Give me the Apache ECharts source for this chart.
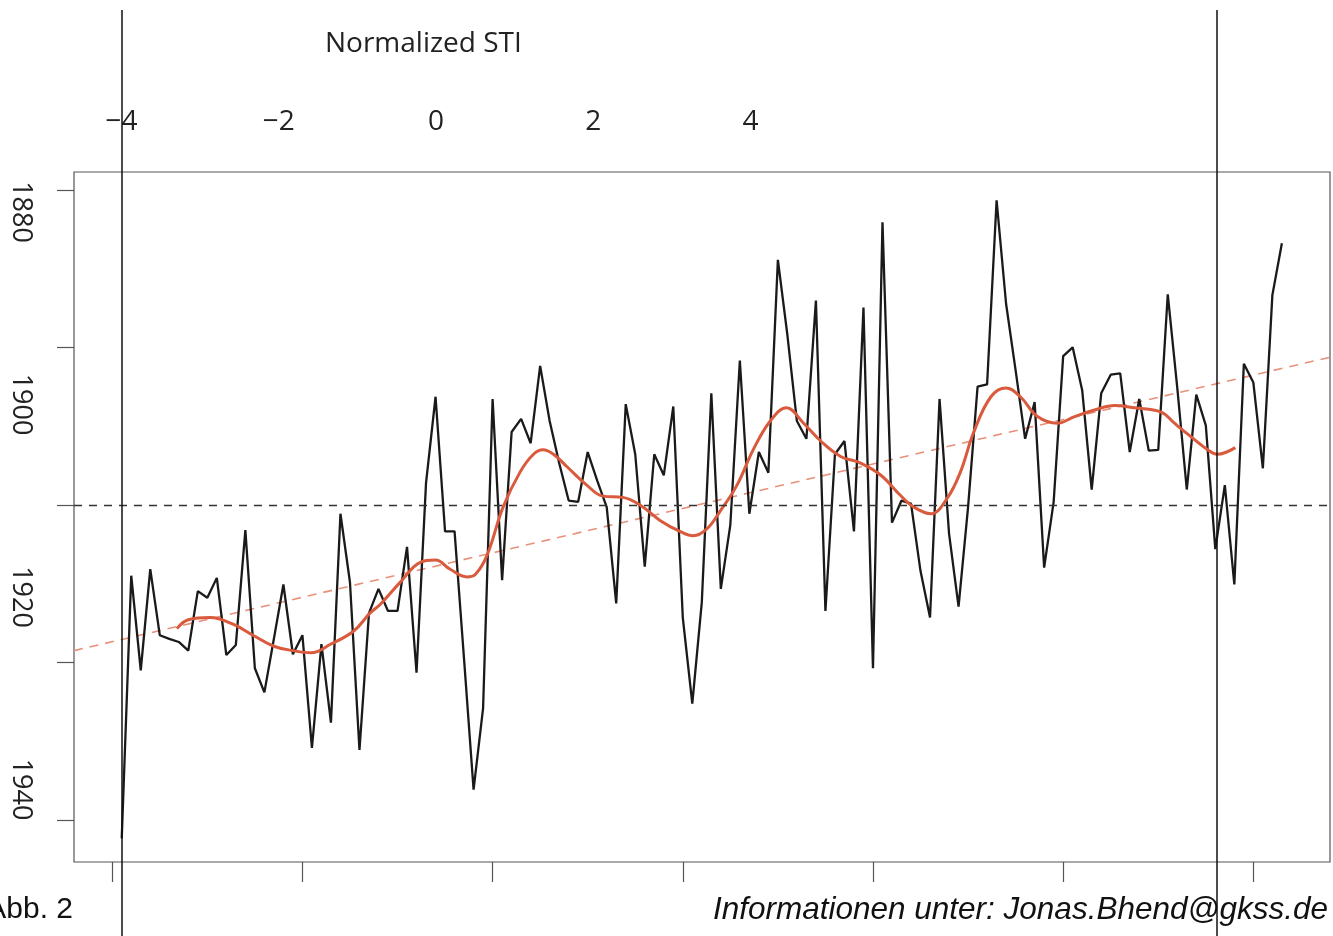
<!DOCTYPE html>
<html>
<head>
<meta charset="utf-8">
<script src="https://cdn.jsdelivr.net/npm/echarts@6/dist/echarts.min.js"></script>
<style>
html,body{margin:0;padding:0;background:#fff;}
#chart{width:1333px;height:936px;}
</style>
</head>
<body>
<div id="chart"></div>
<script>
// ---- data ----
const startYear = 1881;
const stiValues = [
 -2.117,-0.449,-1.051,-0.407,-0.827,-0.85,-0.87,-0.925,-0.547,-0.589,
 -0.463,-0.953,-0.889,-0.16,-1.037,-1.19,-0.85,-0.505,-0.948,-0.827,
 -1.542,-0.883,-1.382,-0.056,-0.491,-1.556,-0.687,-0.533,-0.673,-0.673,
 -0.266,-1.065,0.14,0.687,-0.168,-0.168,-0.98,-1.808,-1.29,0.673,
 -0.477,0.463,0.547,0.392,0.883,0.533,0.266,0.028,0.02,0.336,
 0.154,-0.014,-0.625,0.64,0.322,-0.392,0.322,0.188,0.625,-0.715,
 -1.262,-0.617,0.709,-0.533,-0.126,0.917,-0.056,0.336,0.205,1.556,
 1.079,0.533,0.42,1.298,-0.673,0.322,0.406,-0.168,1.253,-1.037,
 1.794,-0.112,0.028,0.008,-0.42,-0.715,0.673,-0.182,-0.645,-0.014,
 0.751,0.765,1.934,1.276,0.855,0.42,0.653,-0.398,0.02,0.945,
 1.001,0.729,0.098,0.709,0.827,0.835,0.336,0.673,0.345,0.35,
 1.337,0.743,0.098,0.701,0.505,-0.28,0.126,-0.505,0.897,0.777,
 0.233,1.332,1.662
];
const smoothYears = [1886.8,1888.0,1890.3,1892.7,1894.8,1897.0,1899.0,1900.9,1903.0,1905.4,
 1907.1,1908.2,1910.3,1912.4,1914.0,1915.5,1917.3,1918.2,1919.4,1921.1,
 1922.9,1924.3,1925.3,1926.4,1927.8,1929.9,1931.6,1933.7,1935.5,1937.6,
 1939.7,1941.1,1942.5,1943.9,1945.7,1947.4,1949.2,1950.9,1952.7,1954.5,
 1956.6,1958.7,1960.8,1962.9,1964.3,1966.1,1967.8,1969.2,1970.6,1972.4,
 1974.0,1975.5,1977.3,1979.4,1981.2,1983.3,1985.4,1987.5,1990.3,1991.7,
 1993.4,1995.2,1996.2,1998.1];
const smoothValues = [-0.785,-0.729,-0.715,-0.757,-0.827,-0.897,-0.925,-0.939,-0.883,-0.80,
 -0.687,-0.63,-0.49,-0.364,-0.35,-0.407,-0.457,-0.44,-0.322,-0.014,
 0.21,0.322,0.35,0.322,0.244,0.126,0.056,0.048,0.0,-0.098,
 -0.168,-0.196,-0.154,-0.042,0.126,0.35,0.533,0.617,0.519,0.406,
 0.308,0.266,0.19,0.06,-0.014,-0.056,0.042,0.21,0.463,0.687,
 0.743,0.687,0.561,0.519,0.561,0.603,0.631,0.617,0.59,0.519,
 0.435,0.35,0.322,0.364];
const trendYears = [1875.98, 2008.06];
const trendValues = [-0.925, 0.938];
const bottomTicks = [1880,1900,1920,1940,1960,1980,2000];
const leftTicks = [-2,-1,0,1,2];
const yearLabels = [1880,1900,1920,1940];
const stiTicks = [-4,-2,0,2,4];
const stiLines = [-4, 9.93];

// ---- build ----
const blackData = stiValues.map((v,i)=>[startYear+i, v]);
const smoothData = smoothYears.map((y,i)=>[y, smoothValues[i]]);
const trendData = trendYears.map((y,i)=>[y, trendValues[i]]);

const chart = echarts.init(document.getElementById('chart'), null, {renderer:'canvas'});
const labelFont = '"Open Sans", "Noto Sans", sans-serif';
chart.setOption({
  animation:false,
  backgroundColor:'#ffffff',
  grid:[
    {left:74, right:3, top:172, bottom:74, show:true, borderColor:'#555', borderWidth:1.2, backgroundColor:'transparent'},
    {left:74, right:3, top:10, bottom:0, show:false}
  ],
  xAxis:[
    {type:'value', gridIndex:0, position:'bottom', min:1875.98, max:2008.06,
     axisLine:{show:false, onZero:false},
     axisTick:{show:true, customValues:bottomTicks, length:20, lineStyle:{color:'#555', width:1.2}},
     axisLabel:{show:false}, splitLine:{show:false}},
    {type:'value', gridIndex:0, position:'top', min:-4.603, max:11.367,
     axisLine:{show:false, onZero:false}, axisTick:{show:false}, splitLine:{show:false},
     axisLabel:{show:true, customValues:stiTicks, margin:36, fontSize:28, color:'#222', fontFamily:labelFont,
       formatter:(v)=>String(v).replace('-', '\u2212')}},
    {type:'value', gridIndex:1, min:-4.603, max:11.367, show:false, axisLine:{onZero:false}}
  ],
  yAxis:[
    {type:'value', gridIndex:0, position:'left', min:-2.267, max:2.114,
     axisLine:{show:false, onZero:false},
     axisTick:{show:true, customValues:leftTicks, length:17, lineStyle:{color:'#555', width:1.2}},
     axisLabel:{show:false}, splitLine:{show:false}},
    {type:'value', gridIndex:0, position:'left', inverse:true, min:1875.84, max:1947.53,
     axisLine:{show:false, onZero:false}, axisTick:{show:false}, splitLine:{show:false},
     axisLabel:{show:true, customValues:yearLabels, rotate:-90, margin:40, fontSize:27, color:'#222', fontFamily:labelFont,
       formatter:(v)=>String(v)}},
    {type:'value', gridIndex:1, min:0, max:1, show:false, axisLine:{onZero:false}}
  ],
  series:[
    {type:'line', name:'trend', xAxisIndex:0, yAxisIndex:0, data:trendData, symbol:'none', silent:true,
     lineStyle:{color:'#e8907a', width:1.6, type:[9,7]}, z:2},
    {type:'line', name:'STI', xAxisIndex:0, yAxisIndex:0, data:blackData, symbol:'none', silent:true,
     lineStyle:{color:'#1a1a1a', width:2.3}, z:3,
     markLine:{silent:true, symbol:['none','none'], label:{show:false},
       lineStyle:{color:'#333', width:1.3, type:[8,7]}, data:[{yAxis:0}]}},
    {type:'line', name:'smooth', xAxisIndex:0, yAxisIndex:0, data:smoothData, symbol:'none', silent:true,
     smooth:0.4, lineStyle:{color:'#d95a3c', width:3}, z:4},
    {type:'line', name:'vlines', xAxisIndex:2, yAxisIndex:2, data:[], symbol:'none', silent:true,
     markLine:{silent:true, symbol:['none','none'], label:{show:false},
       lineStyle:{color:'#111', width:1.5, type:'solid'},
       data:stiLines.map(v=>({xAxis:v}))}, z:5}
  ],
  graphic:[
    {type:'text', left:325, top:30, style:{text:'Normalized STI', font:'28px "Open Sans", sans-serif', fill:'#222'}},
    {type:'text', right:1333-73, top:895, style:{text:'Abb. 2', font:'30px "Liberation Sans", Arial, sans-serif', fill:'#111'}},
    {type:'text', right:5, top:894, style:{text:'Informationen unter: Jonas.Bhend@gkss.de', font:'italic 31.5px "Liberation Sans", Arial, sans-serif', fill:'#111'}}
  ]
});
</script>
</body>
</html>
